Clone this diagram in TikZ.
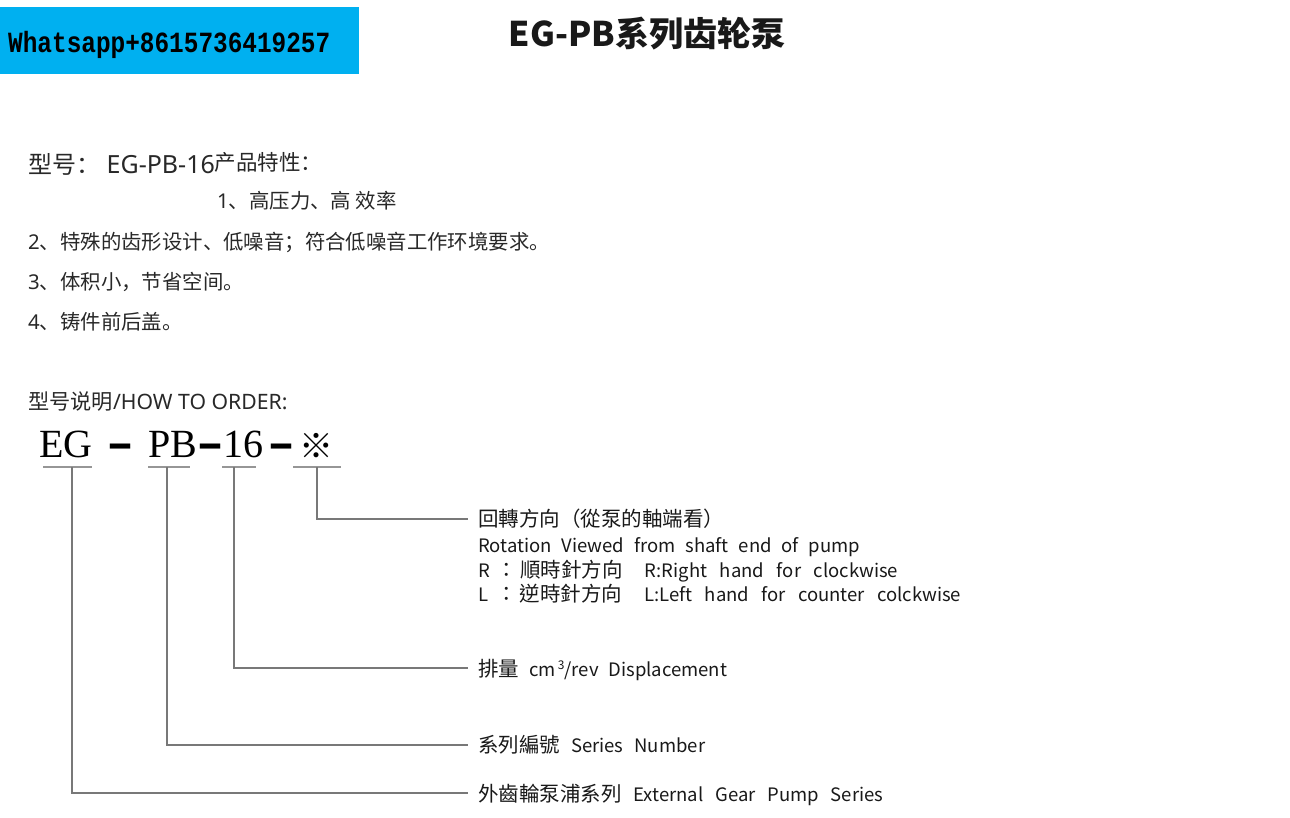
\documentclass[tikz,border=0pt]{standalone}
\usepackage{fontspec}
\usepackage{graphicx}
\setmainfont{Noto Sans}
\newfontfamily\cjkSC{Noto Sans CJK SC}
\newfontfamily\cjkTC{Noto Sans CJK TC}
\newfontfamily\monoF{Liberation Mono}
\newfontfamily\serifF{Liberation Serif}
\newfontfamily\dejaF{DejaVu Sans}
\newcommand{\zh}[1]{{\cjkSC #1}}
\newcommand{\tc}[1]{{\fs{20.5}#1}}
\newcommand{\fs}[1]{\fontsize{#1}{#1}\selectfont}
\definecolor{wablue}{RGB}{0,176,240}
\definecolor{txtgray}{RGB}{40,40,40}
\definecolor{labblack}{RGB}{25,25,25}
\definecolor{ulgray}{RGB}{150,150,150}
\definecolor{conngray}{RGB}{120,120,120}
\tikzset{
  feat/.style={anchor=base west, inner sep=0, text=txtgray, font=\fs{20.4}},
  lab/.style={anchor=base west, inner sep=0, text=labblack, font=\cjkTC\fs{18.5}},
  uline/.style={draw=ulgray, line width=2pt},
  conn/.style={draw=conngray, line width=1.8pt},
  bigser/.style={anchor=base west, inner sep=0, text=black, font=\serifF\fs{40}},
  dashmark/.style={anchor=base, inner sep=0, text=black, font=\dejaF\bfseries\fs{40}},
}
\begin{document}
\begin{tikzpicture}[x=1pt,y=-1pt]
\useasboundingbox (0,0) rectangle (1290,817);
\fill[white] (0,0) rectangle (1290,817);

% header
\node[fill=wablue, minimum width=359pt, minimum height=67pt, anchor=north west, inner sep=0] (wabox) at (0,7) {};
\node[anchor=base west, inner sep=0, text=black, font=\monoF\bfseries\fs{24.4}] (watext) at (8,52) {\scalebox{1}[1.2]{Whatsapp+8615736419257}};
\node[anchor=base, inner sep=0, text=black!90, font=\cjkSC\bfseries\fs{34}] (title) at (647,46) {EG-PB系列齿轮泵};

% features
\node[feat, font=\fs{25}] (model) at (28,173) {\zh{\fs{24}型号：} EG-PB-16\raisebox{3pt}{\zh{\fs{21.5}产品特性：}}};
\node[feat] (f1) at (217,208) {1\zh{、高压力、高 效率}};
\node[feat] (f2) at (28,249) {2\zh{、特殊的齿形设计、低噪音；符合低噪音工作环境要求。}};
\node[feat] (f3) at (28,289) {3\zh{、体积小，节省空间。}};
\node[feat] (f4) at (28,329) {4\zh{、铸件前后盖。}};
\node[feat, font=\fs{21.2}] (howto) at (28,409) {\zh{型号说明}/HOW TO ORDER:};

% model code
\node[bigser] (EG) at (39,457) {EG};
\node[dashmark] (d1) at (120,457) {\scalebox{1.3}[1]{–}};
\node[bigser] (PB) at (148,457) {PB};
\node[dashmark] (d2) at (210,457) {\scalebox{1.3}[1]{–}};
\node[bigser] (n16) at (223,457) {16};
\node[dashmark] (d3) at (281,457) {\scalebox{1.3}[1]{–}};
\node[anchor=base, inner sep=0, text=black, font=\cjkSC\fs{34}] (star) at (316,458) {※};

% underlines
\coordinate (uEGl) at (43,467);  \coordinate (uEGr) at (92,467);
\coordinate (uPBl) at (148,467); \coordinate (uPBr) at (190,467);
\coordinate (u16l) at (222,467); \coordinate (u16r) at (256,467);
\coordinate (uSTl) at (293,467); \coordinate (uSTr) at (341,467);
\draw[uline] (uEGl) -- (uEGr);
\draw[uline] (uPBl) -- (uPBr);
\draw[uline] (u16l) -- (u16r);
\draw[uline] (uSTl) -- (uSTr);

% connector start points
\coordinate (sEG) at (72,467);
\coordinate (sPB) at (167,467);
\coordinate (s16) at (234,467);
\coordinate (sST) at (317,467);
\coordinate (eST) at (468,519);
\coordinate (e16) at (468,668);
\coordinate (ePB) at (468,745);
\coordinate (eEG) at (468,793);

\draw[conn] (sST) |- (eST);
\draw[conn] (s16) |- (e16);
\draw[conn] (sPB) |- (ePB);
\draw[conn] (sEG) |- (eEG);

% labels
\node[lab] (rot1) at (478,526) {\tc{回轉方向（從泵的軸端看）}};
\node[lab] (rot2) at (478,552) {\hbox to 382pt{Rotation Viewed from shaft end of pump}};
\node[lab] (rot3) at (478,577) {\hbox to 420pt{R\hspace{7pt}\tc{：}\hspace{3pt}\tc{順時針方向}\hspace{22pt}R:Right hand for clockwise}};
\node[lab] (rot4) at (478,601) {\hbox to 483pt{L\hspace{8pt}\tc{：}\hspace{3pt}\tc{逆時針方向}\hspace{22pt}L:Left hand for counter colckwise}};
\node[lab] (disp) at (478,676) {\hbox to 249pt{\tc{排量} cm\hspace{2pt}\raisebox{7pt}{\fs{12}3}/rev Displacement}};
\node[lab] (ser) at (478,752) {\hbox to 227pt{\tc{系列編號} Series Number}};
\node[lab] (ext) at (478,801) {\hbox to 405pt{\tc{外齒輪泵浦系列} External Gear Pump Series}};
\end{tikzpicture}
\end{document}
